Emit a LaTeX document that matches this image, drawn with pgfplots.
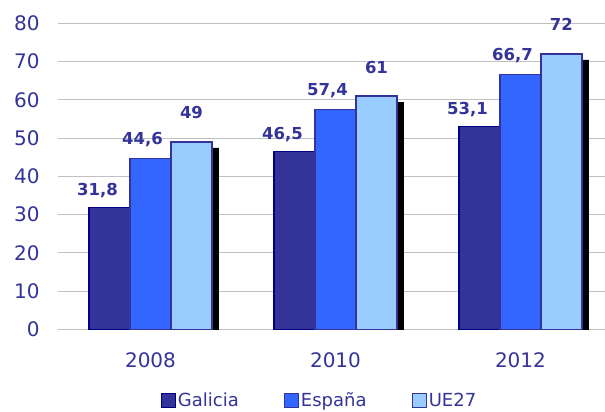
\documentclass[border=0pt]{standalone}
\usepackage{pgfplots}
\pgfplotsset{compat=1.18}
\usepackage{fontspec}
\setmainfont{DejaVu Sans}
\definecolor{galicia}{HTML}{333399}
\definecolor{galiciaedge}{HTML}{000080}
\definecolor{espana}{HTML}{3366FF}
\definecolor{ue}{HTML}{99CCFF}
\definecolor{txt}{HTML}{333399}
\definecolor{gridc}{HTML}{C0C0C0}
\pgfplotsset{
  sq legend/.style={legend image code/.code={\draw[##1, line width=1.2bp] (0bp,-7bp) rectangle (14bp,7bp);}},
  lbl/.style 2 args={nodes near coords, every node near coord/.append style={font=\bfseries\fontsize{16.5bp}{19bp}\selectfont, text=txt, anchor=base, xshift=#1, yshift=#2}},
}
\begin{document}
\begin{tikzpicture}
\begin{axis}[
  name=ax,
  scale only axis,
  width=547bp, height=306bp,
  xmin=-0.5, xmax=2.457,
  ymin=0, ymax=80,
  ytick={0,10,...,80},
  xtick={0,1,2},
  xticklabels={2008,2010,2012},
  major tick length=0pt,
  axis line style={draw=none},
  ymajorgrids,
  major grid style={color=gridc, line width=1.2bp},
  tick label style={font=\fontsize{20bp}{24bp}\selectfont, text=txt},
  yticklabel style={xshift=-15bp},
  xticklabel style={yshift=-20bp},
  /pgf/number format/assume math mode=true,
  /pgf/number format/use comma,
  ybar=0pt,
  bar width=41bp,
  legend columns=3,
  legend style={draw=none, fill=none, at={(0.478,-0.232)}, anchor=center,
    font=\fontsize{18bp}{22bp}\selectfont, text=txt,
    /tikz/every even column/.append style={column sep=43bp},
    nodes={inner xsep=2bp, inner ysep=1bp}},
]
\addplot[fill=black, draw=none, bar shift=48bp, yshift=-6bp, forget plot]
  coordinates {(0,49) (1,61) (2,72)};
\addplot[fill=galicia, draw=galiciaedge, line width=1.2bp, bar shift=-41bp, sq legend, lbl={-12bp}{12bp}]
  coordinates {(0,31.8) (1,46.5) (2,53.1)};
\addplot[fill=espana, draw=galicia, line width=1.2bp, bar shift=0bp, sq legend, lbl={-8bp}{14bp}]
  coordinates {(0,44.6) (1,57.4) (2,66.7)};
\addplot[fill=ue, draw=galicia, line width=1.2bp, bar shift=41bp, sq legend, lbl={0bp}{23bp}]
  coordinates {(0,49) (1,61) (2,72)};
\legend{Galicia, España, UE27}
\end{axis}
\pgfresetboundingbox
\path ([xshift=-58bp,yshift=-82.6bp]ax.south west) rectangle ([yshift=23.4bp]ax.north east);
\end{tikzpicture}
\end{document}
